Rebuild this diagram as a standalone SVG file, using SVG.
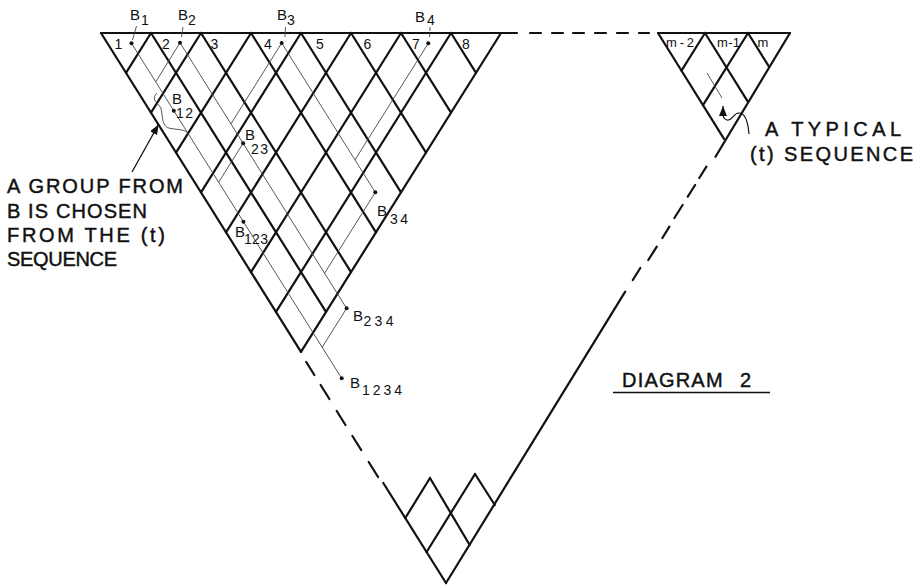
<svg xmlns="http://www.w3.org/2000/svg" width="917" height="585" viewBox="0 0 917 585">
<style>
.k{stroke:#111;stroke-width:2.2;fill:none;stroke-linecap:round}
.t{stroke:#444;stroke-width:0.9;fill:none}
.txt{font-family:"Liberation Sans",Arial,sans-serif;fill:#111}
.big{font-size:20px;stroke:#111;stroke-width:0.45}
.sm{font-size:14px}
.lab{font-size:15px}
.dot{fill:#111}
</style>
<defs>
<marker id="ah" viewBox="0 0 10 8" refX="10" refY="4" markerWidth="10" markerHeight="8" markerUnits="userSpaceOnUse" orient="auto"><path d="M0,0 L10,4 L0,8 z" fill="#111"/></marker>
</defs>
<rect width="917" height="585" fill="#fff"/>

<g id="outline" class="k">
<line x1="101" y1="33" x2="517" y2="33"/>
<path d="M530,33H541M552,33H563M573,33H584M595,33H606M617,33H628M639,33H649"/>
<line x1="658" y1="33" x2="790" y2="33"/>
<line x1="101" y1="33" x2="301" y2="351.8"/>
<path d="M306.2,362L314.4,375M320.6,385L329.4,399M336.7,411L345.5,425M352.4,436L361.2,450M368.7,462L378.1,477"/>
<line x1="383.3" y1="483" x2="446" y2="583"/>
<line x1="790" y1="33" x2="715.5" y2="156.7"/>
<path d="M706.4,166.7L699.3,178M695.1,185L687.8,196.7M682.6,205L674.4,218M669.4,226.7L662.4,238M656.8,246.7L648.3,260M640.3,268L632.8,280"/>
<line x1="625.2" y1="291.7" x2="446" y2="583"/>
</g>

<g id="lattice-main" class="k">
<line x1="151" y1="33" x2="326" y2="311.95"/>
<line x1="201" y1="33" x2="351" y2="272.1"/>
<line x1="251" y1="33" x2="376" y2="232.3"/>
<line x1="301" y1="33" x2="401" y2="192.4"/>
<line x1="351" y1="33" x2="426" y2="152.6"/>
<line x1="401" y1="33" x2="451" y2="112.7"/>
<line x1="451" y1="33" x2="476" y2="72.85"/>
<line x1="151" y1="33" x2="126" y2="72.85"/>
<line x1="201" y1="33" x2="151" y2="112.7"/>
<line x1="251" y1="33" x2="176" y2="152.6"/>
<line x1="301" y1="33" x2="201" y2="192.4"/>
<line x1="351" y1="33" x2="226" y2="232.3"/>
<line x1="401" y1="33" x2="251" y2="272.1"/>
<line x1="451" y1="33" x2="276" y2="311.95"/>
<line x1="501" y1="33" x2="301" y2="351.8"/>
</g>

<g id="lattice-m" class="k">
<line x1="658" y1="33" x2="724" y2="138.8"/>
<line x1="705" y1="33" x2="747.5" y2="101.2"/>
<line x1="748" y1="33" x2="769" y2="66.7"/>
<line x1="705" y1="33" x2="681.5" y2="70.7"/>
<line x1="748" y1="33" x2="703" y2="105.2"/>
</g>

<g id="lattice-apex" class="k">
<line x1="426.6" y1="552" x2="475" y2="474"/>
<line x1="469.7" y1="545" x2="430" y2="478"/>
<line x1="405.3" y1="518" x2="430" y2="478"/>
<line x1="475" y1="474" x2="494.8" y2="505"/>
</g>

<g id="slots" class="txt sm" text-anchor="middle">
<text x="118.5" y="49">1</text>
<text x="166" y="49">2</text>
<text x="214.5" y="49">3</text>
<text x="268" y="49">4</text>
<text x="320" y="49">5</text>
<text x="367.5" y="49">6</text>
<text x="416" y="49">7</text>
<text x="466" y="49">8</text>
<text x="680" y="47" font-size="13" textLength="28" lengthAdjust="spacing">m-2</text>
<text x="728.5" y="47" font-size="13" textLength="23" lengthAdjust="spacing">m-1</text>
<text x="763" y="47" font-size="13">m</text>
</g>

<g id="connectors">
<g class="t">
<line x1="131.5" y1="43.3" x2="173.8" y2="110.7"/>
<line x1="180" y1="42.7" x2="155.8" y2="81.8"/>
<line x1="180" y1="42.7" x2="243.1" y2="143.3"/>
<line x1="281.7" y1="43" x2="230.9" y2="123.9"/>
<line x1="281.7" y1="43" x2="375.3" y2="192.3"/>
<line x1="428.3" y1="43.3" x2="355" y2="159.9"/>
<line x1="173.8" y1="110.7" x2="243.4" y2="221.7"/>
<line x1="243.1" y1="143.3" x2="218.7" y2="182.2"/>
<line x1="243.1" y1="143.3" x2="346.6" y2="308.3"/>
<line x1="375.3" y1="192.3" x2="324.6" y2="273.2"/>
<line x1="243.4" y1="221.7" x2="341.7" y2="378.3"/>
<line x1="346.6" y1="308.3" x2="322.2" y2="347.25"/>
<line x1="136.5" y1="26" x2="132.5" y2="40"/>
<line x1="183" y1="27" x2="181.5" y2="37"/>
<line x1="285.5" y1="27" x2="285" y2="37"/>
<line x1="430" y1="27" x2="429.5" y2="38" stroke-dasharray="4 2"/>
<line x1="707" y1="73" x2="722" y2="98"/>
<path d="M157,93 C153.5,96 153.5,100 157,103 L161,108 L162.5,118 C163.5,125 166,128 171,128.5 L182,130 C185,130.5 187,132 188.5,134"/>
</g>
<line x1="132" y1="172" x2="158.5" y2="124.5" stroke="#111" stroke-width="1.3" marker-end="url(#ah)"/>
<path d="M749,134 C748,122 745,113 739,113 C733,113 733,121 727,120 C722,119 723,114 723,106" fill="none" stroke="#111" stroke-width="1.2" marker-end="url(#ah)"/>
</g>

<g id="B1"><circle class="dot" cx="131.5" cy="43.3" r="2"/><text class="txt lab" x="130" y="20">B</text><text class="txt sm" x="141" y="25">1</text></g>
<g id="B2"><circle class="dot" cx="180" cy="42.7" r="2"/><text class="txt lab" x="178" y="20">B</text><text class="txt sm" x="188" y="25">2</text></g>
<g id="B3"><circle class="dot" cx="281.7" cy="43" r="2"/><text class="txt lab" x="277" y="20">B</text><text class="txt sm" x="287" y="25">3</text></g>
<g id="B4"><circle class="dot" cx="428.3" cy="43.3" r="2"/><text class="txt lab" x="415" y="22">B</text><text class="txt sm" x="427" y="25">4</text></g>
<g id="B12"><circle class="dot" cx="173.8" cy="110.7" r="2"/><text class="txt lab" x="172" y="103.5">B</text><text class="txt sm" x="176" y="118" textLength="17" lengthAdjust="spacing">12</text></g>
<g id="B23"><circle class="dot" cx="243.1" cy="143.3" r="2"/><text class="txt lab" x="245" y="140">B</text><text class="txt sm" x="251" y="153.5" textLength="17" lengthAdjust="spacing">23</text></g>
<g id="B123"><circle class="dot" cx="243.4" cy="221.7" r="2"/><text class="txt lab" x="235" y="237">B</text><text class="txt sm" x="244" y="243.5" textLength="24" lengthAdjust="spacing">123</text></g>
<g id="B34"><circle class="dot" cx="375.3" cy="192.3" r="2"/><text class="txt lab" x="377" y="216">B</text><text class="txt sm" x="390" y="223.5" textLength="18" lengthAdjust="spacing">34</text></g>
<g id="B234"><circle class="dot" cx="346.6" cy="308.3" r="2"/><text class="txt lab" x="353" y="321">B</text><text class="txt sm" x="363.5" y="325.5" textLength="30" lengthAdjust="spacing">234</text></g>
<g id="B1234"><circle class="dot" cx="341.7" cy="378.3" r="2"/><text class="txt lab" x="350" y="387.5">B</text><text class="txt sm" x="362" y="395" textLength="40" lengthAdjust="spacing">1234</text></g>

<g id="note-group" class="txt big">
<text x="7" y="193" textLength="176" lengthAdjust="spacing">A GROUP FROM</text>
<text x="7" y="218" textLength="140" lengthAdjust="spacing">B IS CHOSEN</text>
<text x="7" y="242" textLength="158" lengthAdjust="spacing">FROM THE (t)</text>
<text x="7" y="266" textLength="110" lengthAdjust="spacing">SEQUENCE</text>
</g>

<g id="note-typical" class="txt big">
<text x="765" y="136" textLength="136" lengthAdjust="spacing">A TYPICAL</text>
<text x="750" y="161" textLength="163" lengthAdjust="spacing">(t) SEQUENCE</text>
</g>

<g id="title">
<text class="txt big" x="622" y="387" letter-spacing="1.2">DIAGRAM <tspan x="740">2</tspan></text>
<line x1="613" y1="392.5" x2="770" y2="392.5" stroke="#111" stroke-width="1.6"/>
</g>
</svg>
